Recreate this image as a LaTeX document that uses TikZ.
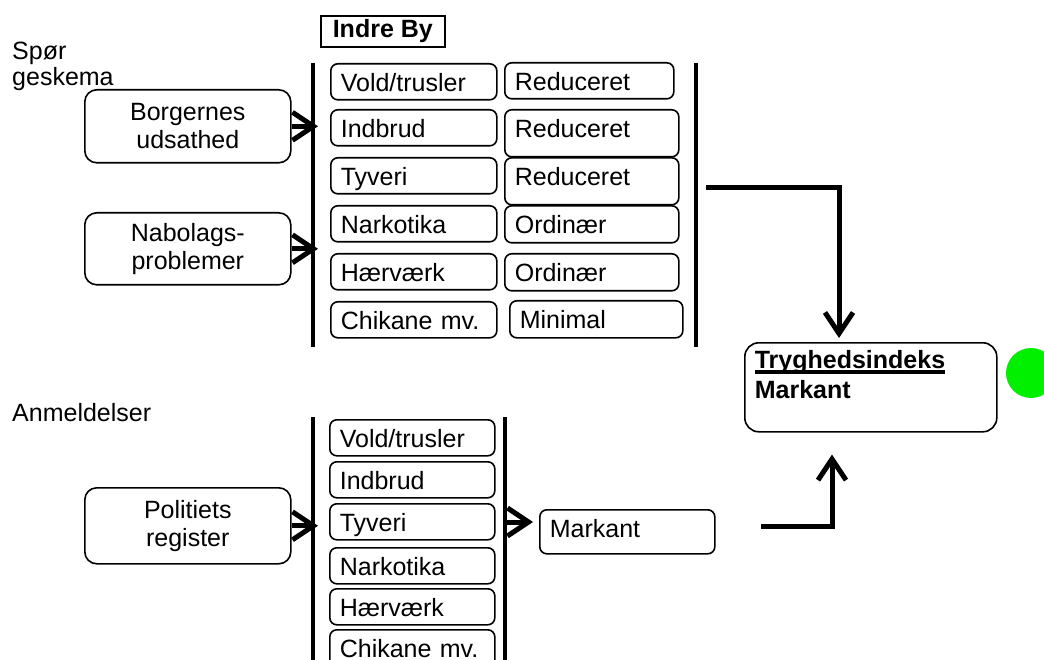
\documentclass[tikz,border=0pt]{standalone}
\usepackage{fontspec}
\setmainfont{Liberation Sans}
\usetikzlibrary{arrows.meta}
\newcommand\thickul[1]{\setbox0\hbox{#1}\rlap{\rule[-5pt]{\wd0}{3.5pt}}\box0}
\definecolor{signal}{RGB}{0,240,0}
\begin{document}
\begin{tikzpicture}[x=1pt,y=-1pt,
  font=\fontsize{25}{28}\selectfont,
  item/.style={draw, rounded corners=7pt, line width=1.6pt, inner xsep=10pt,
    inner ysep=8.5pt, text height=19pt, text depth=0pt, align=left, anchor=north west},
  srcbox/.style={draw, rounded corners=12pt, line width=1.6pt, minimum width=206pt,
    minimum height=73pt, align=center, anchor=north west, inner sep=0pt},
  plain/.style={inner sep=0pt, anchor=north west, align=left},
  bar/.style={line width=4.5pt},
  arr/.style={line width=5pt, -{Straight Barb[length=21pt,width=28pt]}},
]
\useasboundingbox (0,0) rectangle (1044,660);

% labels
\node[plain, font=\fontsize{25}{26}\selectfont] (spor) at (12,42) {Spør\\geskema};
\node[plain] (anm) at (12,403) {Anmeldelser};

% title box
\node[draw, line width=1.6pt, anchor=north west, minimum width=124pt, minimum height=31pt,
  inner sep=0pt, font=\fontsize{25}{28}\selectfont\bfseries] (indre) at (320,15) {Indre By};

% source boxes
\node[srcbox] (borg) at (84,89) {Borgernes\\udsathed};
\node[srcbox, minimum height=72pt] (nabo) at (84,212) {Nabolags-\\problemer};
\node[srcbox, minimum height=76pt] (poli) at (84,487) {Politiets\\register};

% vertical bars
\coordinate (tl1) at (313,63);  \coordinate (tl2) at (313,347);
\coordinate (tr1) at (696,63);  \coordinate (tr2) at (696,347);
\coordinate (bl1) at (313,417); \coordinate (bl2) at (313,662);
\coordinate (br1) at (505,417); \coordinate (br2) at (505,662);
\draw[bar] (tl1) -- (tl2);
\draw[bar] (tr1) -- (tr2);
\draw[bar] (bl1) -- (bl2);
\draw[bar] (br1) -- (br2);

% top left column
\node[item, text width=146pt] (t1) at (330,63)  {Vold/trusler};
\node[item, text width=146pt] (t2) at (330,109) {Indbrud};
\node[item, text width=146pt] (t3) at (330,157) {Tyveri};
\node[item, text width=146pt] (t4) at (330,205) {Narkotika};
\node[item, text width=146pt] (t5) at (330,253) {Hærværk};
\node[item, text width=146pt] (t6) at (330,301) {Chikane mv.};

% top right column
\node[item, text width=149pt] (r1) at (504,62)  {Reduceret};
\node[item, text width=154pt, text depth=11pt] (r2) at (504,109) {Reduceret};
\node[item, text width=154pt, text depth=11pt] (r3) at (504,157) {Reduceret};
\node[item, text width=154pt, text depth=1pt] (r4) at (504,205) {Ordinær};
\node[item, text width=154pt, text depth=1pt] (r5) at (504,253) {Ordinær};
\node[item, text width=153pt, text depth=1pt] (r6) at (509,300) {Minimal};

% lower column
\node[item, text width=145pt] (b1) at (329,419) {Vold/trusler};
\node[item, text width=145pt] (b2) at (329,461) {Indbrud};
\node[item, text width=145pt] (b3) at (329,503) {Tyveri};
\node[item, text width=145pt, text depth=-1pt] (b4) at (329,547) {Narkotika};
\node[item, text width=145pt, text depth=-1pt] (b5) at (329,588) {Hærværk};
\node[item, text width=145pt, text depth=6pt] (b6) at (329,629) {Chikane mv.};

% lower result
\node[item, text width=155pt, inner ysep=9pt, text height=19pt, text depth=7pt] (mk) at (539,509) {Markant};

% index box
\node[draw, rounded corners=14pt, line width=1.6pt, anchor=north west, align=left,
  text width=232pt, inner xsep=10pt, inner ysep=8pt, text height=18pt, text depth=55pt,
  font=\fontsize{25}{30}\selectfont\bfseries] (tryg) at (744,342)
  {\thickul{Tryghedsindeks}\\Markant};

% green signal
\fill[signal] (1031,373) circle (25pt);

% arrows into bars
\draw[arr] (borg.east) -- ([xshift=5pt]borg.east -| tl1);
\draw[arr] (nabo.east) -- ([xshift=5pt]nabo.east -| tl1);
\draw[arr] (poli.east) -- ([xshift=5pt]poli.east -| bl1);
\coordinate (ma) at (507,522);
\draw[arr] (ma) -- ([xshift=-6pt]ma -| mk.west);

% connectors to index
\coordinate (ts) at (706,188);
\coordinate (tc) at (839,188);
\draw[arr] (ts) -- (tc) -- ([yshift=4pt]tc |- tryg.north);
\coordinate (bs) at (761,526);
\coordinate (bc) at (832,526);
\draw[arr] (bs) -- (bc) -- ([yshift=-22pt]bc |- tryg.south);
\end{tikzpicture}
\end{document}
